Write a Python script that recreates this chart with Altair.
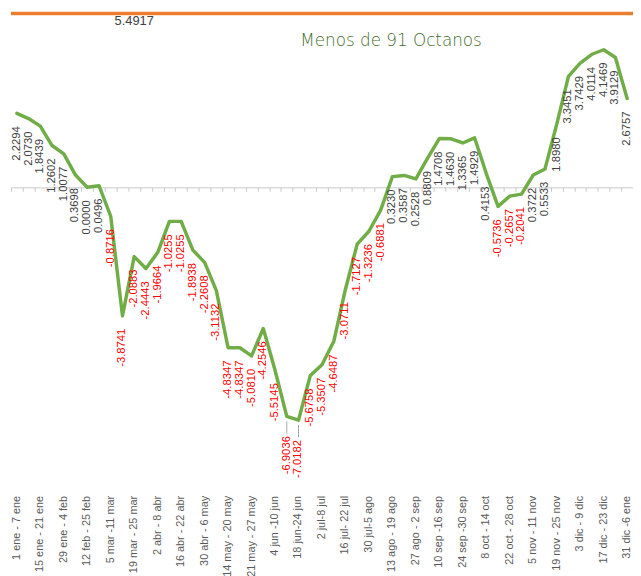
import altair as alt
import pandas as pd

weeks = [
    "1 ene - 7 ene", "8 ene - 14 ene", "15 ene - 21 ene", "22 ene - 28 ene",
    "29 ene - 4 feb", "5 feb - 11 feb", "12 feb - 25 feb", "26 feb - 4 mar",
    "5 mar -11 mar", "12 mar - 18 mar", "19 mar - 25 mar", "26 mar - 1 abr",
    "2 abr - 8 abr", "9 abr - 15 abr", "16 abr - 22 abr", "23 abr - 29 abr",
    "30 abr - 6 may", "7 may - 13 may", "14 may - 20 may", "15 may - 21 may",
    "21 may - 27 may", "28 may - 3 jun", "4 jun -10 jun", "11 jun - 17 jun",
    "18 jun-24 jun", "25 jun - 1 jul", "2 jul-8 jul", "9 jul - 15 jul",
    "16 jul- 22 jul", "23 jul - 29 jul", "30 jul-5 ago", "6 ago - 12 ago",
    "13 ago - 19 ago", "20 ago - 26 ago", "27 ago - 2 sep", "3 sep - 9 sep",
    "10 sep -16 sep", "17 sep - 23 sep", "24 sep -30 sep", "1 oct - 7 oct",
    "8 oct - 14 oct", "15 oct - 21 oct", "22 oct - 28 oct", "29 oct - 4 nov",
    "5 nov - 11 nov", "12 nov - 18 nov", "19 nov - 25 nov", "26 nov - 2 dic",
    "3 dic - 9 dic", "10 dic - 16 dic", "17 dic - 23 dic", "24 dic - 30 dic",
    "31 dic -6 ene",
]

values = [
    2.2294, 2.0730, 1.8439, 1.2602, 1.0077, 0.3698, 0.0000, 0.0496,
    -0.8716, -3.8741, -2.0883, -2.4443, -1.9664, -1.0255, -1.0255, -1.8938,
    -2.2608, -3.1132, -4.8347, -4.8347, -5.0810, -4.2546, -5.5145, -6.9036,
    -7.0182, -5.6758, -5.3507, -4.6487, -3.0711, -1.7127, -1.3236, -0.6881,
    0.3230, 0.3587, 0.2528, 0.8809, 1.4708, 1.4630, 1.3365, 1.4929,
    0.4153, -0.5736, -0.2657, -0.2041, 0.3722, 0.5533, 1.8980, 3.3451,
    3.7429, 4.0114, 4.1469, 3.9129, 2.6757,
]

shown_weeks = weeks[::2]
ref_value = 5.4917
ref_label_week = weeks[10]
leader_weeks = [weeks[23], weeks[24]]

df = pd.DataFrame({"week": weeks, "v": values})
df["lab"] = [f"{v:.4f}" for v in values]
df["lead"] = df["week"].isin(leader_weeks)

ref_df = pd.DataFrame({"week": [ref_label_week], "y": [ref_value], "t": [f"{ref_value:.4f}"]})

xscale = alt.Scale(type="band", paddingInner=0, paddingOuter=0, domain=weeks)
yscale = alt.Scale(domain=[-9.167, 5.238], nice=False, zero=False, clamp=True)

base = alt.Chart(df)

zero_axis = base.mark_rule(opacity=0).encode(
    x=alt.X("week:N", scale=xscale, axis=alt.Axis(
        orient="bottom", offset=-308, title=None, labels=False, ticks=True,
        tickBand="extent", tickSize=4, tickColor="#c8c8c8", domain=True,
        domainColor="#c8c8c8", domainWidth=1, grid=False)),
)

line = base.mark_line(color="#70ad47", strokeWidth=3.5, strokeJoin="round", strokeCap="round").encode(
    x=alt.X("week:N", scale=xscale, axis=alt.Axis(
        orient="bottom", title=None, values=shown_weeks, labelAngle=270,
        labelAlign="right", labelBaseline="middle", labelPadding=4,
        labelFont="Liberation Sans", labelFontSize=11, labelColor="#595959",
        ticks=False, domain=False, grid=False, labelOverlap=False)),
    y=alt.Y("v:Q", scale=yscale, axis=None),
)

label_color = alt.condition(alt.datum.v < 0, alt.value("#ff0000"), alt.value("#404040"))

labels = base.transform_filter(~alt.datum.lead).mark_text(
    angle=270, align="right", baseline="middle", dx=-13,
    font="Liberation Sans", fontSize=11.4,
).encode(
    x=alt.X("week:N", scale=xscale, axis=None),
    y=alt.Y("v:Q", scale=yscale, axis=None),
    text="lab:N",
    color=label_color,
)

lead_labels = base.transform_filter(alt.datum.lead).mark_text(
    angle=270, align="right", baseline="middle", dx=-20,
    font="Liberation Sans", fontSize=11.4,
).encode(
    x=alt.X("week:N", scale=xscale, axis=None),
    y=alt.Y("v:Q", scale=yscale, axis=None),
    text="lab:N",
    color=label_color,
)

leaders = base.transform_filter(alt.datum.lead).mark_bar(
    color="#a6a6a6", width=1, yOffset=5, y2Offset=17,
).encode(
    x=alt.X("week:N", scale=xscale, axis=None),
    y=alt.Y("v:Q", scale=yscale, axis=None),
    y2="v:Q",
)

ref_rule = alt.Chart(ref_df).mark_rule(color="#ed7d31", strokeWidth=3.5).encode(
    y=alt.Y("y:Q", scale=yscale, axis=None),
)

ref_text = alt.Chart(ref_df).mark_text(
    dy=8, font="Liberation Sans", fontSize=13, color="#404040", baseline="middle",
).encode(
    x=alt.X("week:N", scale=xscale, axis=None),
    y=alt.Y("y:Q", scale=yscale, axis=None),
    text="t:N",
)

chart = alt.layer(
    zero_axis, ref_rule, ref_text, line, leaders, labels, lead_labels,
).resolve_axis(x="independent").properties(
    width=630,
    height=484,
    autosize=alt.AutoSizeParams(type="none"),
    padding={"left": 3, "top": 2, "right": 0, "bottom": 82},
    background="white",
    title=alt.TitleParams(
        "Menos de 91 Octanos", anchor="start", frame="group", dx=293, dy=52,
        offset=0, baseline="alphabetic", font="DejaVu Sans", fontSize=17,
        fontWeight=300, color="#3f6b2b",
    ),
).configure_view(stroke=None)

chart.save("out.html", embed_options={"renderer": "svg", "actions": False})
